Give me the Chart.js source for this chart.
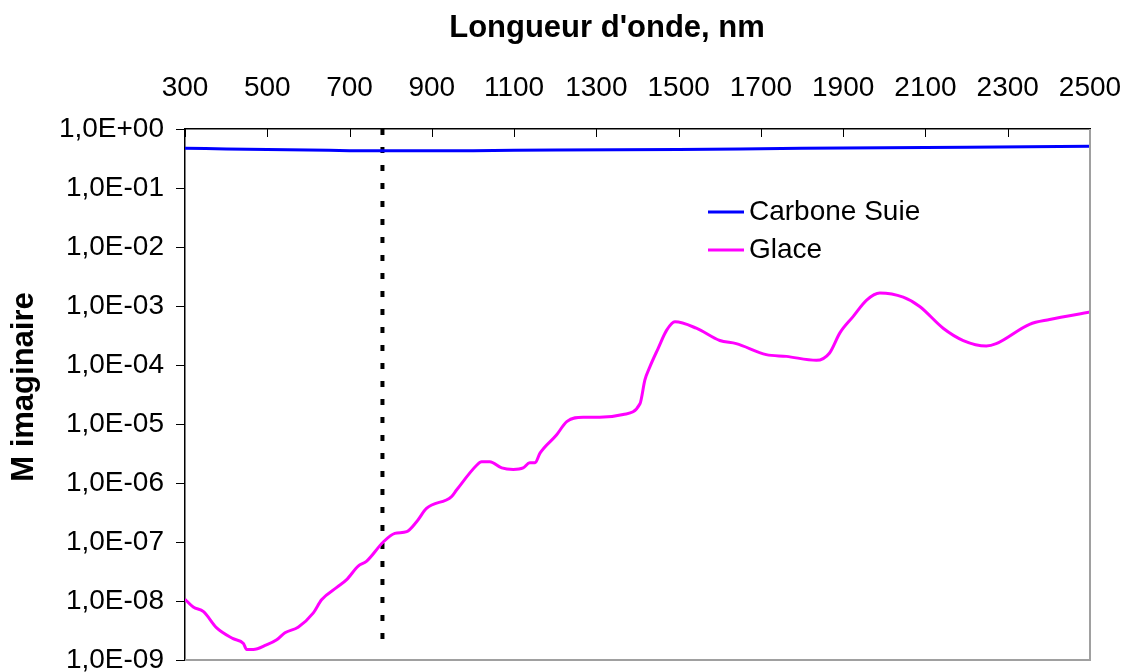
<!DOCTYPE html>
<html lang="fr">
<head>
<meta charset="utf-8">
<title>M imaginaire</title>
<script src="https://cdn.jsdelivr.net/npm/chart.js@4"></script>
<style>
  html, body { margin: 0; padding: 0; background: #fff; }
  #wrap { width: 1129px; height: 672px; position: relative; }
</style>
</head>
<body>
<div id="wrap"><canvas id="chart"></canvas></div>
<script>
// data (wavelength in nm, imaginary index)
const sootWavelengths = [300, 400, 500, 600, 700, 800, 1000, 1200, 1500, 1800, 2000, 2200, 2500];
const sootValues = [0.47, 0.46, 0.45, 0.44, 0.43, 0.43, 0.43, 0.44, 0.45, 0.47, 0.48, 0.49, 0.51];

const iceWavelengths = [
  300, 320, 345, 377, 417, 442, 450, 466, 498, 523, 543, 575, 612, 632, 669, 693, 721, 741, 782, 810,
  839, 863, 887, 948, 960, 1009, 1021, 1041, 1070, 1098, 1122, 1138, 1151, 1163, 1203, 1228, 1268, 1308, 1365, 1406,
  1418, 1430, 1450, 1471, 1491, 1543, 1600, 1640, 1713, 1762, 1835, 1867, 1892, 1924, 1957, 1989, 2046, 2086, 2143, 2192,
  2248, 2272, 2353, 2402, 2500
];
const iceValues = [
  1.07e-8, 7.9e-9, 6.6e-9, 3.5e-9, 2.3e-9, 1.9e-9, 1.5e-9, 1.5e-9, 1.8e-9, 2.2e-9, 2.9e-9, 3.6e-9, 6.3e-9, 1.05e-8, 1.7e-8, 2.3e-8, 3.9e-8, 4.7e-8, 1.0e-7, 1.4e-7,
  1.5e-7, 2.2e-7, 3.7e-7, 5.9e-7, 7.6e-7, 2.0e-6, 2.3e-6, 2.3e-6, 1.8e-6, 1.7e-6, 1.8e-6, 2.2e-6, 2.2e-6, 3.2e-6, 6.5e-6, 1.1e-5, 1.3e-5, 1.3e-5, 1.45e-5, 2.2e-5,
  5.6e-5, 9.3e-5, 1.9e-4, 3.9e-4, 5.4e-4, 4.2e-4, 2.6e-4, 2.3e-4, 1.5e-4, 1.4e-4, 1.2e-4, 1.6e-4, 3.5e-4, 6.6e-4, 1.26e-3, 1.66e-3, 1.41e-3, 9.8e-4, 4.2e-4, 2.6e-4,
  2.1e-4, 2.3e-4, 4.9e-4, 5.9e-4, 7.9e-4
];

const markerWavelength = [780, 780];
const markerValues = [1, 1.5e-9];

const xTicks = [300, 500, 700, 900, 1100, 1300, 1500, 1700, 1900, 2100, 2300, 2500];
const yTicks = [1e-9, 1e-8, 1e-7, 1e-6, 1e-5, 1e-4, 1e-3, 1e-2, 1e-1, 1];

const seriesNames = ['Carbone Suie', 'Glace'];
const seriesColors = ['#0000ff', '#ff00ff'];
const xTitle = "Longueur d'onde, nm";
const yTitle = 'M imaginaire';

const FONT = 'Arial, "Liberation Sans", sans-serif';

const toPoints = (xs, ys) => xs.map((x, i) => ({ x: x, y: ys[i] }));

const sciLabel = (v) => {
  const exp = Math.round(Math.log10(v));
  const sign = exp < 0 ? '-' : '+';
  return '1,0E' + sign + String(Math.abs(exp)).padStart(2, '0');
};

// titles, legend, inner ticks and the grey frame
const decorations = {
  id: 'decorations',
  afterDraw: (chart) => {
    const ctx = chart.ctx;
    const area = chart.chartArea;
    const x = chart.scales.x;
    ctx.save();

    ctx.strokeStyle = '#000';
    ctx.lineWidth = 1;
    xTicks.forEach(t => {
      const px = Math.round(x.getPixelForValue(t)) + 0.5;
      ctx.beginPath();
      ctx.moveTo(px, area.top);
      ctx.lineTo(px, area.top + 8);
      ctx.stroke();
    });

    ctx.strokeStyle = '#a0a0a0';
    ctx.lineWidth = 2;
    ctx.beginPath();
    ctx.moveTo(area.left, area.bottom);
    ctx.lineTo(area.right, area.bottom);
    ctx.lineTo(area.right, area.top);
    ctx.stroke();

    ctx.fillStyle = '#000';
    ctx.font = 'bold 31px ' + FONT;
    ctx.textAlign = 'center';
    ctx.textBaseline = 'middle';
    ctx.fillText(xTitle, 607, 28);

    ctx.translate(24, 387);
    ctx.rotate(-Math.PI / 2);
    ctx.fillText(yTitle, 0, 0);
    ctx.setTransform(1, 0, 0, 1, 0, 0);

    ctx.font = '28px ' + FONT;
    ctx.textAlign = 'left';
    seriesNames.forEach((name, i) => {
      const y = 212 + i * 38;
      ctx.strokeStyle = seriesColors[i];
      ctx.lineWidth = 3;
      ctx.beginPath();
      ctx.moveTo(708, y);
      ctx.lineTo(744, y);
      ctx.stroke();
      ctx.fillStyle = '#000';
      ctx.fillText(name, 749, y);
    });
    ctx.restore();
  }
};

document.addEventListener('DOMContentLoaded', () => {
  const ctx = document.getElementById('chart').getContext('2d');

  new Chart(ctx, {
    type: 'line',
    data: {
      datasets: [
        {
          label: seriesNames[0],
          data: toPoints(sootWavelengths, sootValues),
          borderColor: seriesColors[0],
          borderWidth: 3,
          pointRadius: 0,
          tension: 0.3
        },
        {
          label: seriesNames[1],
          data: toPoints(iceWavelengths, iceValues),
          borderColor: seriesColors[1],
          borderWidth: 3,
          pointRadius: 0,
          cubicInterpolationMode: 'monotone'
        },
        {
          label: '780 nm',
          data: toPoints(markerWavelength, markerValues),
          borderColor: '#000',
          borderWidth: 4,
          borderDash: [6, 12],
          pointRadius: 0
        }
      ]
    },
    options: {
      responsive: true,
      maintainAspectRatio: false,
      animation: false,
      layout: { padding: { left: 0, right: 39, top: 0, bottom: 12 } },
      plugins: {
        legend: { display: false },
        tooltip: { enabled: false }
      },
      scales: {
        x: {
          type: 'linear',
          position: 'top',
          min: 300,
          max: 2500,
          afterBuildTicks: (scale) => { scale.ticks = xTicks.map(v => ({ value: v })); },
          afterFit: (scale) => {
            scale.height = 129;
            scale.paddingLeft = 0;
            scale.paddingRight = 0;
          },
          ticks: {
            autoSkip: false,
            maxRotation: 0,
            padding: 24,
            color: '#000',
            font: { family: FONT, size: 28 },
            callback: (v) => String(v)
          },
          grid: { drawOnChartArea: false, drawTicks: false },
          border: { color: '#000', width: 1.5 }
        },
        y: {
          type: 'logarithmic',
          min: 1e-9,
          max: 1,
          afterBuildTicks: (scale) => { scale.ticks = yTicks.map(v => ({ value: v })); },
          afterFit: (scale) => {
            scale.width = 185;
            scale.paddingTop = 0;
            scale.paddingBottom = 0;
          },
          ticks: {
            autoSkip: false,
            padding: 12,
            color: '#000',
            font: { family: FONT, size: 28 },
            callback: (v) => sciLabel(v)
          },
          grid: { drawOnChartArea: false, tickLength: 9, color: '#000' },
          border: { color: '#000', width: 1.5 }
        }
      }
    },
    plugins: [decorations]
  });
});
</script>
</body>
</html>
